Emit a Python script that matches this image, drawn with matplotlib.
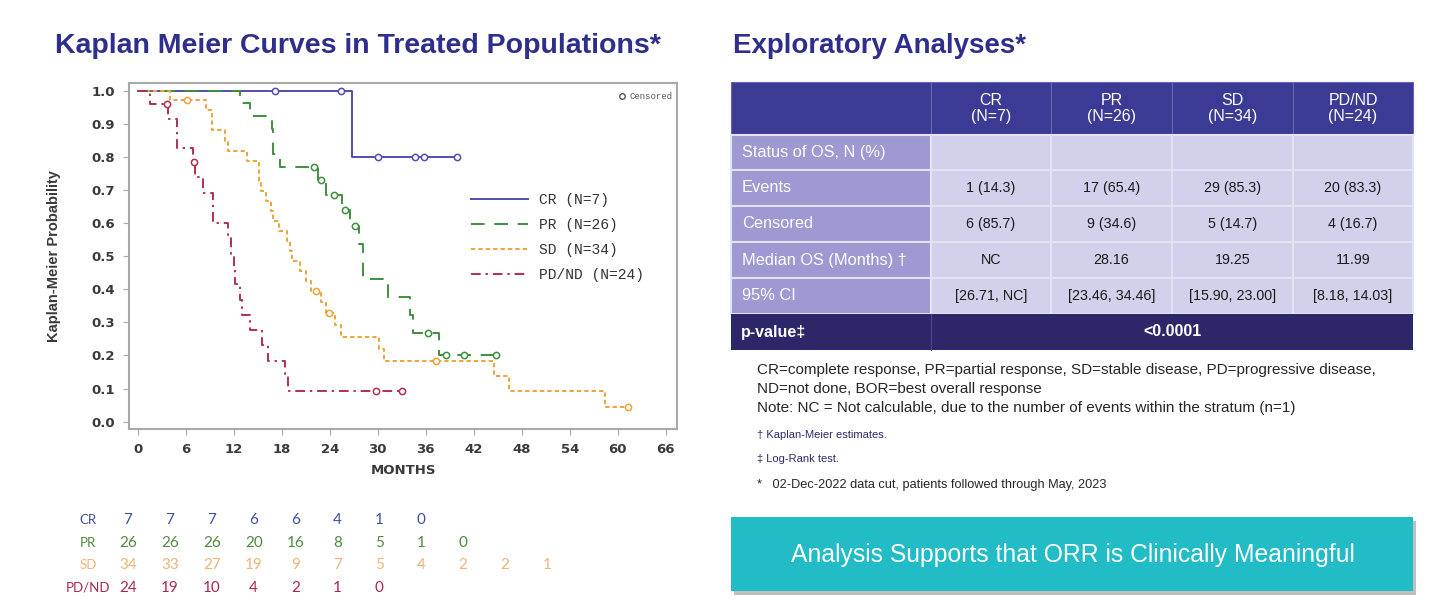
import numpy as np
import matplotlib
matplotlib.use('Agg')
import matplotlib.pyplot as plt
from matplotlib.patches import Rectangle

# ---- data ----
groups = ['CR', 'PR', 'SD', 'PD/ND']
group_n = [7, 26, 34, 24]

cr_events = [26.8]
cr_censors = [17.2, 25.4, 30.0, 34.6, 35.8, 39.9]

pr_events = [12.8, 14.0, 16.8, 16.85, 16.9, 17.8, 22.5, 23.5, 25.5, 26.5, 27.6,
             28.16, 28.16, 31.3, 34.0, 34.4, 37.6]
pr_censors = [22.0, 22.9, 24.5, 25.9, 27.2, 36.3, 38.5, 40.75, 44.75]

sd_events = [4.0, 8.5, 9.25, 9.25, 10.9, 11.3, 13.6, 15.1, 15.2, 15.4, 16.0, 16.6,
             16.9, 17.6, 18.6, 19.0, 19.25, 20.3, 21.0, 21.7, 22.9, 23.5, 24.6, 25.4,
             30.2, 30.8, 44.5, 46.4, 58.4]
sd_censors = [6.1, 22.3, 23.9, 37.3, 61.25]

pd_events = [1.5, 3.75, 4.9, 4.9, 6.9, 7.2, 8.2, 9.4, 9.4, 11.3, 11.6, 11.99, 12.1,
             12.8, 13.0, 14.0, 15.5, 16.3, 18.4, 18.8]
pd_censors = [3.6, 7.0, 29.75, 33.0]

# number at risk at 0, 6, 12, ... months
risk_cr = [7, 7, 7, 6, 6, 4, 1, 0]
risk_pr = [26, 26, 26, 20, 16, 8, 5, 1, 0]
risk_sd = [34, 33, 27, 19, 9, 7, 5, 4, 2, 2, 1]
risk_pd = [24, 19, 10, 4, 2, 1, 0]

month_ticks = list(range(0, 67, 6))
prob_ticks = [0.0, 0.1, 0.2, 0.3, 0.4, 0.5, 0.6, 0.7, 0.8, 0.9, 1.0]

# exploratory analyses table
col_headers = ['CR\n(N=7)', 'PR\n(N=26)', 'SD\n(N=34)', 'PD/ND\n(N=24)']
row_labels = ['Status of OS, N (%)', 'Events', 'Censored', 'Median OS (Months) \u2020', '95% CI']
events_row = ['1 (14.3)', '17 (65.4)', '29 (85.3)', '20 (83.3)']
censored_row = ['6 (85.7)', '9 (34.6)', '5 (14.7)', '4 (16.7)']
median_row = ['NC', '28.16', '19.25', '11.99']
ci_row = ['[26.71, NC]', '[23.46, 34.46]', '[15.90, 23.00]', '[8.18, 14.03]']
p_value = '<0.0001'

colors = ['#4f4fb0', '#3f8f3f', '#eea23a', '#b0304f']
risk_colors = ['#3f4fa0', '#4f8a3f', '#f0b478', '#a8284a']
styles = ['-', (0, (7, 5)), (0, (2.2, 1.6)), (0, (5, 2.5, 1.2, 2.5))]


def km(events, censors):
    n = len(events) + len(censors)
    s = 1.0
    xs, ys = [0.0], [1.0]
    cx, cy = [], []
    for t in sorted(set(events) | set(censors)):
        d = events.count(t)
        c = censors.count(t)
        if d:
            s *= 1 - d / n
            xs.append(t)
            ys.append(s)
        if c:
            cx += [t] * c
            cy += [s] * c
        n -= d + c
    xs.append(max(events + censors))
    ys.append(s)
    return xs, ys, cx, cy


fig = plt.figure(figsize=(14.56, 6.11), dpi=100)

# pixel-coordinate layer for titles, table and notes
bg = fig.add_axes([0, 0, 1, 1])
bg.set_xlim(0, 1456)
bg.set_ylim(611, 0)
bg.axis('off')

navy = '#2e2f8c'
bg.text(55, 46, 'Kaplan Meier Curves in Treated Populations*', fontsize=20.5,
        fontweight='bold', color=navy, va='center', ha='left', family='Liberation Sans')
bg.text(733, 46, 'Exploratory Analyses*', fontsize=20, fontweight='bold',
        color=navy, va='center', ha='left', family='Liberation Sans')

# ---- KM plot ----
ax = fig.add_axes([129 / 1456, 1 - 429 / 611, 548 / 1456, 346 / 611])
all_data = [(cr_events, cr_censors), (pr_events, pr_censors),
            (sd_events, sd_censors), (pd_events, pd_censors)]
for i, (ev, ce) in enumerate(all_data):
    xs, ys, cx, cy = km(ev, ce)
    ax.step(xs, ys, where='post', color=colors[i], linestyle=styles[i], lw=1.4,
            label=f'{groups[i]} (N={group_n[i]})')
    ax.plot(cx, cy, 'o', mfc='white', mec=colors[i], ms=4.5, mew=1.1, ls='none')

ax.set_xlim(-1.1, 67.4)
ax.set_ylim(-0.022, 1.023)
ax.set_xticks(month_ticks)
ax.set_yticks(prob_ticks)
ax.set_yticklabels([f'{v:.1f}' for v in prob_ticks])
for sp in ax.spines.values():
    sp.set_color('#a8a8a8')
    sp.set_linewidth(1.5)
ax.tick_params(direction='out', length=4, color='#a8a8a8', labelsize=9.5,
               labelcolor='#3a3a3a', pad=6)
for lab in ax.get_xticklabels() + ax.get_yticklabels():
    lab.set_fontweight('bold')
ax.set_xlabel('MONTHS', fontsize=9.5, fontweight='bold', color='#3a3a3a', labelpad=6)
ax.set_ylabel('Kaplan-Meier Probability', fontsize=10.5, fontweight='bold',
              color='#3a3a3a', labelpad=22, family='Liberation Sans')

leg = ax.legend(loc='upper left', bbox_to_anchor=(0.6, 0.72), frameon=False,
                prop={'family': 'Liberation Mono', 'size': 10.5},
                handlelength=3.9, handletextpad=0.8, labelspacing=0.75)
for t in leg.get_texts():
    t.set_color('#333333')

ax.plot([0.9], [0.962], 'o', mfc='white', mec='#555555', ms=4, mew=1,
        transform=ax.transAxes, clip_on=False)
ax.text(0.913, 0.962, 'Censored', fontsize=6.5, family='Liberation Mono',
        color='#555555', va='center', ha='left', transform=ax.transAxes)

# ---- number at risk ----
risk_rows = [risk_cr, risk_pr, risk_sd, risk_pd]
row_y = [520, 543, 565, 588]
for i, row in enumerate(risk_rows):
    bg.text(88, row_y[i], groups[i], fontsize=9.5, color=risk_colors[i],
            ha='center', va='center', family='Lato')
    for j, v in enumerate(row):
        bg.text(128 + 41.9 * j, row_y[i], str(v), fontsize=11, color=risk_colors[i],
                ha='center', va='center', family='Lato')

# ---- table ----
col_x = [731, 931, 1051, 1172, 1293, 1413]
row_edges = [82, 135, 170, 206, 242, 278, 314, 350]
head_c = '#3b3a94'
first_c = '#9c99d3'
body_c = '#d2d1ec'
p_c = '#2b2768'
sep = '#e4e3f4'

for j in range(5):
    bg.add_patch(Rectangle((col_x[j], row_edges[0]), col_x[j + 1] - col_x[j],
                           row_edges[1] - row_edges[0], fc=head_c, ec='#6766b0', lw=0.8))
for j, h in enumerate(col_headers):
    bg.text((col_x[j + 1] + col_x[j + 2]) / 2, (row_edges[0] + row_edges[1]) / 2, h,
            color='white', fontsize=11.5, ha='center', va='center',
            family='Liberation Sans', linespacing=1.1)

body_rows = [['', '', '', ''], events_row, censored_row, median_row, ci_row]
for r, label in enumerate(row_labels):
    y0, y1 = row_edges[r + 1], row_edges[r + 2]
    bg.add_patch(Rectangle((col_x[0], y0), col_x[1] - col_x[0], y1 - y0,
                           fc=first_c, ec=sep, lw=1.5))
    bg.text(col_x[0] + 11, (y0 + y1) / 2, label, color='white', fontsize=11.8,
            ha='left', va='center', family='Liberation Sans')
    for j in range(4):
        bg.add_patch(Rectangle((col_x[j + 1], y0), col_x[j + 2] - col_x[j + 1], y1 - y0,
                               fc=body_c, ec=sep, lw=1.5))
        bg.text((col_x[j + 1] + col_x[j + 2]) / 2, (y0 + y1) / 2, body_rows[r][j],
                color='#1a1a1a', fontsize=10.3, ha='center', va='center',
                family='Liberation Sans')

y0, y1 = row_edges[6], row_edges[7]
bg.add_patch(Rectangle((col_x[0], y0), col_x[-1] - col_x[0], y1 - y0, fc=p_c, ec='none'))
bg.plot([col_x[1], col_x[1]], [y0, y1], color='#4a4690', lw=0.8)
bg.text(col_x[0] + 10, (y0 + y1) / 2, 'p-value\u2021', color='white', fontsize=11.5,
        fontweight='bold', ha='left', va='center', family='Liberation Sans')
bg.text((col_x[1] + col_x[-1]) / 2, (y0 + y1) / 2, p_value, color='white', fontsize=11.5,
        fontweight='bold', ha='center', va='center', family='Liberation Sans')

# ---- footnotes ----
notes = ['CR=complete response, PR=partial response, SD=stable disease, PD=progressive disease,',
         'ND=not done, BOR=best overall response',
         'Note: NC = Not calculable, due to the number of events within the stratum (n=1)']
for k, line in enumerate(notes):
    bg.text(757, 370 + 19 * k, line, fontsize=11, color='#262626', ha='left',
            va='center', family='Liberation Sans')
bg.text(757, 435, '\u2020 Kaplan-Meier estimates.', fontsize=8, color='#2b2b6a',
        ha='left', va='center', family='Liberation Sans')
bg.text(757, 459, '\u2021 Log-Rank test.', fontsize=8, color='#2b2b6a',
        ha='left', va='center', family='Liberation Sans')
bg.text(757, 485, '*   02-Dec-2022 data cut, patients followed through May, 2023',
        fontsize=9.2, color='#262626', ha='left', va='center', family='Liberation Sans')

# ---- takeaway box ----
bg.add_patch(Rectangle((734, 521), 682, 74, fc='#8c8c8c', ec='none', alpha=0.55))
bg.add_patch(Rectangle((731, 517), 682, 74, fc='#21bcc6', ec='none'))
bg.text(1073, 555, 'Analysis Supports that ORR is Clinically Meaningful', fontsize=17.8,
        color='white', ha='center', va='center', family='Liberation Sans')

fig.savefig('out.png', dpi=100)
